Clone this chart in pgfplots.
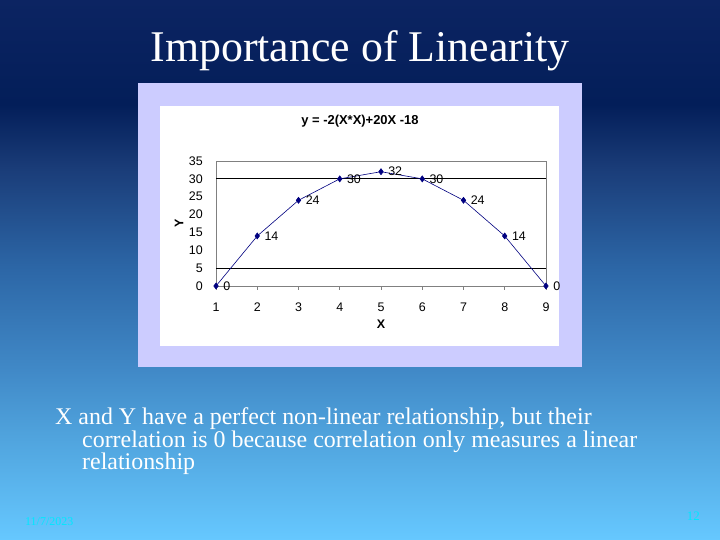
\documentclass[border=0pt]{standalone}
\usepackage{fontspec}
\setmainfont{Liberation Serif}
\newfontfamily\arial{Liberation Sans}
\usepackage{pgfplots}
\pgfplotsset{compat=1.18}

% slide colours
\definecolor{navyA}{HTML}{0C2462}
\definecolor{navyB}{HTML}{031E59}
\definecolor{bgA}{HTML}{1A3C78}
\definecolor{bgB}{HTML}{2C66A6}
\definecolor{bgC}{HTML}{4088C6}
\definecolor{bgD}{HTML}{4FA2DC}
\definecolor{bgE}{HTML}{66C8FF}
\definecolor{lav}{HTML}{CCCCFF}
\definecolor{mnavy}{HTML}{000080}
\definecolor{footc}{HTML}{00E8FF}

% middle 50bp of the 100bp shading is stretched over the slide
\pgfdeclareverticalshading{slidebg}{100bp}{%
  color(0bp)=(bgE); color(25bp)=(bgE); color(34.9bp)=(bgD);
  color(41bp)=(bgC); color(50.3bp)=(bgB); color(59.5bp)=(bgA);
  color(65.3bp)=(navyB); color(75bp)=(navyA); color(100bp)=(navyA)}

\begin{document}
\begin{tikzpicture}
\clip (0,0) rectangle (720bp,540bp);
\shade[shading=slidebg] (0,0) rectangle (720bp,540bp);

% title of the slide
\node[anchor=base, text=white, inner sep=0pt, font=\fontsize{44}{48}\selectfont]
  at (360bp,478bp) {Importance of Linearity};

% chart frame
\fill[lav] (138bp,173bp) rectangle (582bp,457bp);
\fill[white] (160bp,194bp) rectangle (559bp,434bp);

\begin{axis}[
  at={(216bp,254bp)}, anchor=south west,
  scale only axis, width=330bp, height=125bp,
  xmin=1, xmax=9, ymin=0, ymax=35,
  clip=false,
  /pgf/number format/assume math mode=true,
  xtick={1,...,9}, ytick={0,5,...,35},
  xtick pos=lower,
  tick align=outside, major tick length=4bp,
  xtick style={draw=gray, line width=0.6bp},
  ytick style={draw=none},
  x tick label style={font=\arial\fontsize{12.5}{14}\selectfont, anchor=base, inner sep=0pt, yshift=-21.3bp},
  y tick label style={font=\arial\fontsize{12.5}{14}\selectfont, anchor=east, inner sep=0pt, xshift=-9bp},
  axis line style={draw=gray, line width=0.75bp},
  extra y ticks={5,30}, extra y tick labels={},
  extra y tick style={grid=major, major grid style={black, line width=0.75bp}, tick style={draw=none}},
  title={\textbf{y = -2(X*X)+20X -18}},
  title style={font=\arial\fontsize{13}{15}\selectfont, at={(axis description cs:0.5,1)}, anchor=center, xshift=-21bp, yshift=34bp},
  xlabel={\textbf{X}},
  xlabel style={font=\arial\fontsize{12.5}{14}\selectfont, at={(axis description cs:0.5,0)}, anchor=center, yshift=-38bp},
  ylabel={\textbf{Y}},
  ylabel style={font=\arial\fontsize{12.5}{14}\selectfont, at={(axis description cs:0,0.5)}, anchor=center, yshift=37bp},
]
\addplot[color=mnavy, line width=0.6bp, mark=diamond*, mark size=3bp,
  mark options={fill=mnavy, draw=mnavy},
  nodes near coords,
  every node near coord/.append style={anchor=west, inner sep=0pt, xshift=7bp,
    text=black, font=\arial\fontsize{12.5}{14}\selectfont}]
  coordinates {(1,0) (2,14) (3,24) (4,30) (5,32) (6,30) (7,24) (8,14) (9,0)};
\end{axis}

% body text
\begin{scope}[every node/.style={anchor=base west, inner sep=0pt, text=white, font=\fontsize{24}{26}\selectfont}]
\node at (55bp,115bp) {X and Y have a perfect non-linear relationship, but their};
\node at (82bp,92.5bp) {correlation is 0 because correlation only measures a linear};
\node at (82bp,70bp) {relationship};
\end{scope}

% footer
\node[anchor=base west, inner sep=0pt, text=footc, font=\fontsize{12}{14}\selectfont] at (25bp,15bp) {11/7/2023};
\node[anchor=base east, inner sep=0pt, text=footc, font=\fontsize{13}{15}\selectfont] at (700bp,20bp) {12};
\end{tikzpicture}
\end{document}
